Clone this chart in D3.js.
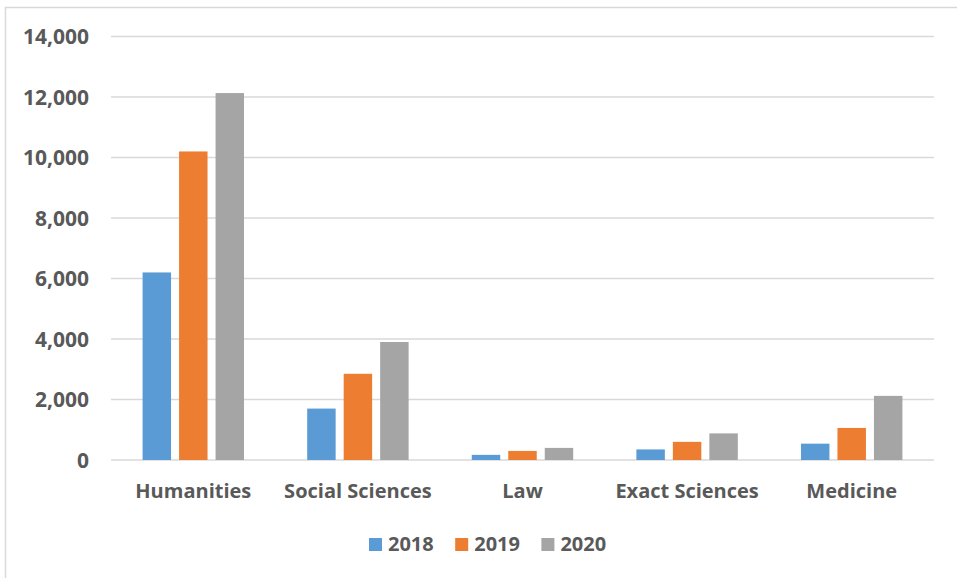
<!DOCTYPE html>
<html>
<head>
<meta charset="utf-8">
<script src="https://cdn.jsdelivr.net/npm/d3@7"></script>
<style>
  body { margin: 0; background: #fff; }
  text { font-family: "Open Sans", sans-serif; font-weight: bold; fill: #595959; }
</style>
</head>
<body>
<svg id="chart" width="957" height="578"></svg>
<script>
// data
const categories = ["Humanities", "Social Sciences", "Law", "Exact Sciences", "Medicine"];
const years = ["2018", "2019", "2020"];
const values2018 = [6200, 1700, 170, 350, 540];
const values2019 = [10200, 2850, 300, 600, 1060];
const values2020 = [12130, 3900, 400, 880, 2120];
const yTicks = [0, 2000, 4000, 6000, 8000, 10000, 12000, 14000];
const colors = ["#5B9BD5", "#ED7D31", "#A5A5A5"];

const series = [values2018, values2019, values2020];

const svg = d3.select("#chart");

// frame around the chart
svg.append("rect")
    .attr("x", 5.5).attr("y", 7.5)
    .attr("width", 980).attr("height", 600)
    .attr("fill", "none")
    .attr("stroke", "#D9D9D9")
    .attr("stroke-width", 1.5);

const plot = { left: 111, right: 934, top: 36.5, bottom: 460 };

const y = d3.scaleLinear().domain([0, 14000]).range([plot.bottom, plot.top]);
const x0 = d3.scaleBand().domain(categories).range([plot.left, plot.right]);
// group of three bars is about 2/3 of a category slot
const groupW = x0.bandwidth() * 0.665;
const x1 = d3.scaleBand().domain(years).range([0, groupW]).paddingInner(0.22).paddingOuter(0.11);

// gridlines
svg.append("g").selectAll("line")
    .data(yTicks)
    .join("line")
    .attr("x1", plot.left).attr("x2", plot.right)
    .attr("y1", d => y(d)).attr("y2", d => y(d))
    .attr("stroke", "#D9D9D9")
    .attr("stroke-width", 1.5);

// y axis labels
const yAxis = d3.axisLeft(y).tickValues(yTicks).tickFormat(d3.format(",")).tickSize(0).tickPadding(22);
svg.append("g")
    .attr("transform", `translate(${plot.left},0)`)
    .call(yAxis)
    .call(g => g.select(".domain").remove())
    .selectAll("text")
    .attr("font-size", 21)
    .attr("dy", "0.35em");

// bars
const groups = svg.append("g").selectAll("g")
    .data(categories)
    .join("g")
    .attr("transform", d => `translate(${x0(d) + x0.bandwidth() / 2 - groupW / 2},0)`);

groups.selectAll("rect")
    .data((d, i) => years.map((yr, j) => ({ yr: yr, v: series[j][i], c: colors[j] })))
    .join("rect")
    .attr("x", d => x1(d.yr))
    .attr("width", x1.bandwidth())
    .attr("y", d => y(d.v))
    .attr("height", d => y(0) - y(d.v))
    .attr("fill", d => d.c);

// x axis labels
const xAxis = d3.axisBottom(x0).tickSize(0).tickPadding(24);
svg.append("g")
    .attr("transform", `translate(0,${plot.bottom})`)
    .call(xAxis)
    .call(g => g.select(".domain").remove())
    .selectAll("text")
    .attr("font-size", 20)
    .attr("dy", "0.71em");

// legend
const legend = svg.append("g").attr("transform", "translate(369,538)");
const item = legend.selectAll("g")
    .data(years)
    .join("g")
    .attr("transform", (d, i) => `translate(${i * 86.2},0)`);
item.append("rect")
    .attr("width", 13).attr("height", 13)
    .attr("fill", (d, i) => colors[i]);
item.append("text")
    .attr("x", 19).attr("y", 13)
    .attr("font-size", 20)
    .text(d => d);
</script>
</body>
</html>
